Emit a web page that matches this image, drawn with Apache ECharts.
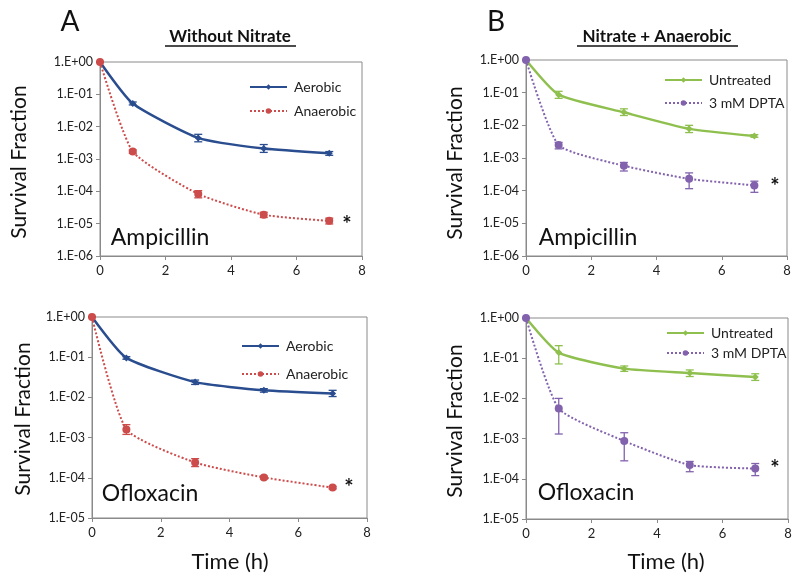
<!DOCTYPE html>
<html>
<head>
<meta charset="utf-8">
<script src="https://cdn.jsdelivr.net/npm/echarts@6/dist/echarts.min.js"></script>
<style>
  html, body { margin: 0; padding: 0; background: #fff; }
  #main { width: 800px; height: 582px; }
</style>
</head>
<body>
<div id="main"></div>
<script>
var times = [0, 1, 3, 5, 7];
var xTicks = [0, 2, 4, 6, 8];

// panel A, ampicillin
var ampAerobic = [1, 0.052, 0.0045, 0.0021, 0.0015];
var ampAerobicLo = [1, 0.047, 0.0034, 0.0016, 0.0013];
var ampAerobicHi = [1, 0.058, 0.0058, 0.0028, 0.0017];
var ampAnaerobic = [1, 0.0017, 0.000083, 0.0000188, 0.0000122];
var ampAnaerobicLo = [1, 0.0015, 0.000063, 0.0000155, 0.0000098];
var ampAnaerobicHi = [1, 0.0019, 0.000105, 0.0000225, 0.0000148];

// panel B, ampicillin
var ampUntreated = [1, 0.087, 0.025, 0.0078, 0.0047];
var ampUntreatedLo = [1, 0.067, 0.020, 0.0060, 0.0043];
var ampUntreatedHi = [1, 0.110, 0.032, 0.0100, 0.0052];
var ampDpta = [1, 0.0025, 0.00058, 0.00023, 0.000145];
var ampDptaLo = [1, 0.0019, 0.00040, 0.000115, 0.000089];
var ampDptaHi = [1, 0.0030, 0.00073, 0.00035, 0.000195];

// panel A, ofloxacin
var oflAerobic = [1, 0.096, 0.024, 0.015, 0.0125];
var oflAerobicLo = [1, 0.089, 0.021, 0.0135, 0.0105];
var oflAerobicHi = [1, 0.103, 0.027, 0.0165, 0.0150];
var oflAnaerobic = [1, 0.0016, 0.00024, 0.000102, 0.000057];
var oflAnaerobicLo = [1, 0.0012, 0.00019, 0.000094, 0.000053];
var oflAnaerobicHi = [1, 0.0021, 0.00030, 0.000110, 0.000061];

// panel B, ofloxacin
var oflUntreated = [1, 0.138, 0.055, 0.043, 0.034];
var oflUntreatedLo = [1, 0.072, 0.047, 0.035, 0.028];
var oflUntreatedHi = [1, 0.205, 0.064, 0.051, 0.041];
var oflDpta = [1, 0.0056, 0.00087, 0.00022, 0.00018];
var oflDptaLo = [1, 0.0013, 0.00028, 0.00015, 0.00012];
var oflDptaHi = [1, 0.0100, 0.00140, 0.00027, 0.00024];

var blue = '#2a4d8f';
var red = '#cc4b4b';
var green = '#8fc04f';
var purple = '#8262ad';
var fontName = 'Lato, "Open Sans", sans-serif';

function pairs(ys) {
  return times.map(function (t, i) { return [t, ys[i]]; });
}
function errData(lo, hi) {
  return times.map(function (t, i) { return [t, lo[i], hi[i]]; });
}
function expLabel(v) {
  var e = Math.round(Math.log10(v));
  var s = e < 0 ? '-' : '+';
  var a = Math.abs(e);
  return '1.E' + s + (a < 10 ? '0' : '') + a;
}

function lineSeries(name, idx, ys, color, solid) {
  return {
    name: name,
    type: 'line',
    xAxisIndex: idx,
    yAxisIndex: idx,
    data: pairs(ys),
    smooth: 0.18,
    symbol: solid ? 'diamond' : 'circle',
    symbolSize: solid ? 7 : 8,
    itemStyle: { color: color },
    lineStyle: { color: color, width: solid ? 2.5 : 2, type: solid ? 'solid' : 'dotted' },
    z: 3
  };
}

function errSeries(idx, lo, hi, color) {
  return {
    type: 'custom',
    xAxisIndex: idx,
    yAxisIndex: idx,
    data: errData(lo, hi),
    z: 2,
    renderItem: function (params, api) {
      var x = api.value(0);
      var a = api.coord([x, api.value(1)]);
      var b = api.coord([x, api.value(2)]);
      var w = 4;
      var st = { stroke: color, lineWidth: 1.3 };
      return {
        type: 'group',
        children: [
          { type: 'line', shape: { x1: a[0], y1: a[1], x2: b[0], y2: b[1] }, style: st },
          { type: 'line', shape: { x1: a[0] - w, y1: a[1], x2: a[0] + w, y2: a[1] }, style: st },
          { type: 'line', shape: { x1: b[0] - w, y1: b[1], x2: b[0] + w, y2: b[1] }, style: st }
        ]
      };
    }
  };
}

var grids = [
  { left: 100, top: 62, width: 262, height: 194 },
  { left: 526, top: 60, width: 261, height: 196 },
  { left: 92, top: 317, width: 275, height: 201 },
  { left: 526, top: 318, width: 262, height: 201 }
];
var yMins = [1e-6, 1e-6, 1e-5, 1e-5];

var xAxes = grids.map(function (g, i) {
  return {
    gridIndex: i,
    type: 'value',
    min: 0,
    max: 8,
    interval: 2,
    axisLine: { lineStyle: { color: '#8a8a8a' } },
    axisTick: { show: true, length: 4, lineStyle: { color: '#8a8a8a' } },
    axisLabel: {
      color: '#222', fontSize: 13, fontFamily: fontName, margin: 8,
      formatter: function (v) { return xTicks.indexOf(v) >= 0 ? String(v) : ''; }
    },
    splitLine: { show: false }
  };
});

var yAxes = grids.map(function (g, i) {
  return {
    gridIndex: i,
    type: 'log',
    logBase: 10,
    min: yMins[i],
    max: 1,
    axisLine: { show: true, lineStyle: { color: '#8a8a8a' } },
    axisTick: { show: true, length: 4, lineStyle: { color: '#8a8a8a' } },
    minorTick: { show: false },
    axisLabel: { color: '#222', fontSize: 12.5, fontFamily: fontName, margin: 7, formatter: expLabel },
    splitLine: { show: false }
  };
});

function legendAt(left, top, gap, names) {
  return {
    orient: 'vertical',
    left: left,
    top: top,
    itemWidth: 37,
    itemHeight: 7,
    itemGap: gap,
    data: names,
    selectedMode: false,
    textStyle: { fontSize: 14, color: '#222', fontFamily: fontName, padding: [0, 0, 0, 2] }
  };
}

function txt(x, y, s, size, opts) {
  opts = opts || {};
  return {
    type: 'text',
    x: x,
    y: y,
    rotation: opts.rot || 0,
    style: {
      text: s,
      fontSize: size,
      fontWeight: opts.bold ? 'bold' : 'normal',
      fontFamily: fontName,
      fill: '#111',
      textAlign: 'center',
      textVerticalAlign: 'middle'
    },
    z: 10
  };
}

var option = {
  animation: false,
  backgroundColor: '#fff',
  grid: grids.map(function (g) {
    return Object.assign({ show: true, borderColor: '#8a8a8a', borderWidth: 1, backgroundColor: 'transparent' }, g);
  }),
  xAxis: xAxes,
  yAxis: yAxes,
  legend: [
    legendAt(244, 75, 10, ['Aerobic', 'Anaerobic']),
    legendAt(659, 68, 9, ['Untreated', '3 mM DPTA']),
    legendAt(236, 334, 14, ['Aerobic', 'Anaerobic']),
    legendAt(661, 321, 6, ['Untreated', '3 mM DPTA'])
  ],
  series: [
    errSeries(0, ampAerobicLo, ampAerobicHi, blue),
    errSeries(0, ampAnaerobicLo, ampAnaerobicHi, red),
    lineSeries('Aerobic', 0, ampAerobic, blue, true),
    lineSeries('Anaerobic', 0, ampAnaerobic, red, false),

    errSeries(1, ampUntreatedLo, ampUntreatedHi, green),
    errSeries(1, ampDptaLo, ampDptaHi, purple),
    lineSeries('Untreated', 1, ampUntreated, green, true),
    lineSeries('3 mM DPTA', 1, ampDpta, purple, false),

    errSeries(2, oflAerobicLo, oflAerobicHi, blue),
    errSeries(2, oflAnaerobicLo, oflAnaerobicHi, red),
    lineSeries('Aerobic', 2, oflAerobic, blue, true),
    lineSeries('Anaerobic', 2, oflAnaerobic, red, false),

    errSeries(3, oflUntreatedLo, oflUntreatedHi, green),
    errSeries(3, oflDptaLo, oflDptaHi, purple),
    lineSeries('Untreated', 3, oflUntreated, green, true),
    lineSeries('3 mM DPTA', 3, oflDpta, purple, false)
  ],
  graphic: [
    txt(70, 22, 'A', 28),
    txt(496, 22, 'B', 28),
    txt(230, 37, 'Without Nitrate', 17, { bold: true }),
    { type: 'line', shape: { x1: 165, y1: 46, x2: 296, y2: 46 }, style: { stroke: '#111', lineWidth: 1.3 } },
    txt(657, 37, 'Nitrate + Anaerobic', 17, { bold: true }),
    { type: 'line', shape: { x1: 577, y1: 46, x2: 738, y2: 46 }, style: { stroke: '#111', lineWidth: 1.3 } },

    txt(19, 162, 'Survival Fraction', 21, { rot: Math.PI / 2 }),
    txt(455, 163, 'Survival Fraction', 21, { rot: Math.PI / 2 }),
    txt(23, 419, 'Survival Fraction', 21, { rot: Math.PI / 2 }),
    txt(455, 421, 'Survival Fraction', 21, { rot: Math.PI / 2 }),

    txt(160, 238, 'Ampicillin', 23),
    txt(588, 238, 'Ampicillin', 23),
    txt(150, 494, 'Ofloxacin', 23),
    txt(586, 493, 'Ofloxacin', 23),

    txt(347, 225, '*', 22, { bold: true }),
    txt(775, 187, '*', 22, { bold: true }),
    txt(349, 488, '*', 22, { bold: true }),
    txt(775, 469, '*', 22, { bold: true }),

    txt(230, 562, 'Time (h)', 22),
    txt(666, 562, 'Time (h)', 22)
  ]
};

var myChart = echarts.init(document.getElementById('main'));
option && myChart.setOption(option);
</script>
</body>
</html>
